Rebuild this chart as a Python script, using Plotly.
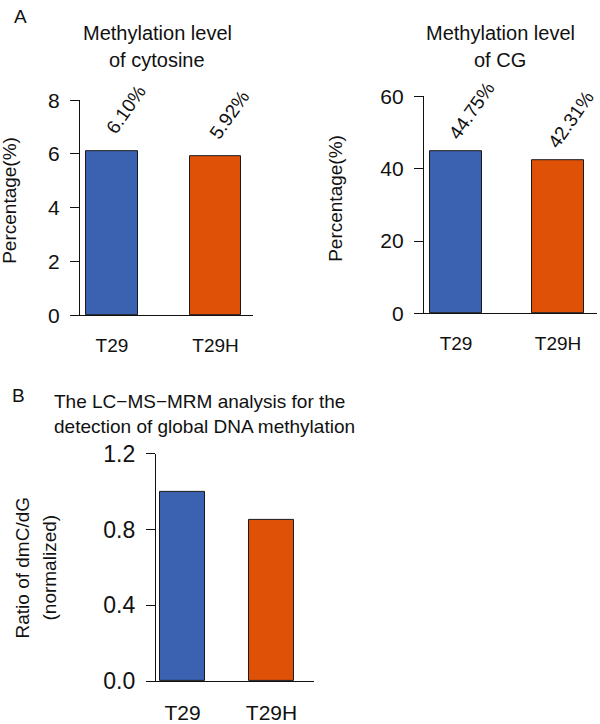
import plotly.graph_objects as go

# ---- data ----
categories = ["T29", "T29H"]
cytosine_pct = [6.10, 5.92]
cg_pct = [44.75, 42.31]
ratio_norm = [1.00, 0.85]
cytosine_labels = ["6.10%", "5.92%"]
cg_labels = ["44.75%", "42.31%"]
cyt_ticks = [0, 2, 4, 6, 8]
cg_ticks = [0, 20, 40, 60]
ratio_ticks = [0.0, 0.4, 0.8, 1.2]
ratio_ticktext = ["0.0", "0.4", "0.8", "1.2"]

colors = ["#3A62B1", "#E05108"]
FONT = "Arial, Liberation Sans, Helvetica, sans-serif"
W, H = 600, 724
# observed effective vertical mapping of the rendered page
H_EFF, Y_OFF = 693.5, 13.5

def px_x(x):
    return x / W

def px_y(y):
    return 1 - (y - Y_OFF) / H_EFF

fig = go.Figure()
xpos = [0, 1]

fig.add_trace(go.Bar(x=xpos, y=cytosine_pct, width=0.5, marker=dict(color=colors, line=dict(color="#1a1a1a", width=1)),
                     xaxis="x", yaxis="y", showlegend=False))
fig.add_trace(go.Bar(x=xpos, y=cg_pct, width=0.51, marker=dict(color=colors, line=dict(color="#1a1a1a", width=1)),
                     xaxis="x2", yaxis="y2", showlegend=False))
fig.add_trace(go.Bar(x=xpos, y=ratio_norm, width=0.506, marker=dict(color=colors, line=dict(color="#1a1a1a", width=1)),
                     xaxis="x3", yaxis="y3", showlegend=False))

def xaxis(domain, rng, anchor, size):
    return dict(domain=domain, range=rng, anchor=anchor, tickvals=xpos, ticktext=categories,
                showline=True, linecolor="#111", linewidth=1.3, ticks="", showgrid=False, zeroline=False,
                tickfont=dict(family=FONT, size=size, color="#111"), ticklabelstandoff=13)

def yaxis(domain, rng, anchor, tickvals, ticktext, size):
    return dict(domain=domain, range=rng, anchor=anchor, tickvals=tickvals, ticktext=ticktext,
                showline=True, linecolor="#111", linewidth=1.3, ticks="outside", ticklen=9, tickwidth=1.2,
                tickcolor="#111", showgrid=False, zeroline=False,
                tickfont=dict(family=FONT, size=size, color="#111"), ticklabelstandoff=6)

fig.update_layout(
    width=W, height=H, margin=dict(l=0, r=0, t=0, b=0),
    paper_bgcolor="white", plot_bgcolor="white",
    bargap=0,
    xaxis=xaxis([px_x(80), px_x(253)], [-0.309, 1.362], "y", 19),
    yaxis=yaxis([px_y(317), px_y(101)], [0, 8], "x", cyt_ticks, [str(t) for t in cyt_ticks], 21),
    xaxis2=xaxis([px_x(424), px_x(597)], [-0.314, 1.382], "y2", 19),
    yaxis2=yaxis([px_y(315), px_y(97)], [0, 60], "x2", cg_ticks, [str(t) for t in cg_ticks], 21),
    xaxis3=xaxis([px_x(156), px_x(314)], [-0.298, 1.478], "y3", 21),
    yaxis3=yaxis([px_y(684), px_y(456)], [0, 1.2], "x3", ratio_ticks, ratio_ticktext, 23),
)

ann = []
def text(x, y, t, size, angle=0, xanchor="center"):
    ann.append(dict(x=px_x(x), y=px_y(y), xref="paper", yref="paper", text=t, showarrow=False,
                    textangle=angle, xanchor=xanchor, yanchor="middle",
                    font=dict(family=FONT, size=size, color="#111")))

text(20, 17, "A", 19)
text(18, 397, "B", 19)
text(157, 34, "Methylation level", 20)
text(157, 61, "of cytosine", 20)
text(500, 34, "Methylation level", 20)
text(500, 61, "of CG", 20)
text(10, 202, "Percentage(%)", 19, -90)
text(336, 200, "Percentage(%)", 19, -90)
text(52, 403, "The LC\u2212MS\u2212MRM analysis for the", 19, 0, "left")
text(52, 428, "detection of global DNA methylation", 19, 0, "left")
text(22, 570, "Ratio of dmC/dG", 19, -90)
text(49, 570, "(normalized)", 19, -90)

# rotated value labels above bars (data-anchored)
for i, (v, lab) in enumerate(zip(cytosine_pct, cytosine_labels)):
    ann.append(dict(x=xpos[i], y=v, xref="x", yref="y", text=lab, showarrow=False, textangle=-55,
                    xanchor="left", yanchor="bottom", xshift=-13, yshift=11,
                    font=dict(family=FONT, size=19, color="#111")))
for i, (v, lab) in enumerate(zip(cg_pct, cg_labels)):
    ann.append(dict(x=xpos[i], y=v, xref="x2", yref="y2", text=lab, showarrow=False, textangle=-55,
                    xanchor="left", yanchor="bottom", xshift=-14 if i == 0 else -17, yshift=5,
                    font=dict(family=FONT, size=19, color="#111")))

fig.update_layout(annotations=ann)
fig.write_html("out.html", config={"displayModeBar": False},
               post_script="document.body.style.margin='0';document.body.style.padding='0';document.body.style.overflow='hidden';")
